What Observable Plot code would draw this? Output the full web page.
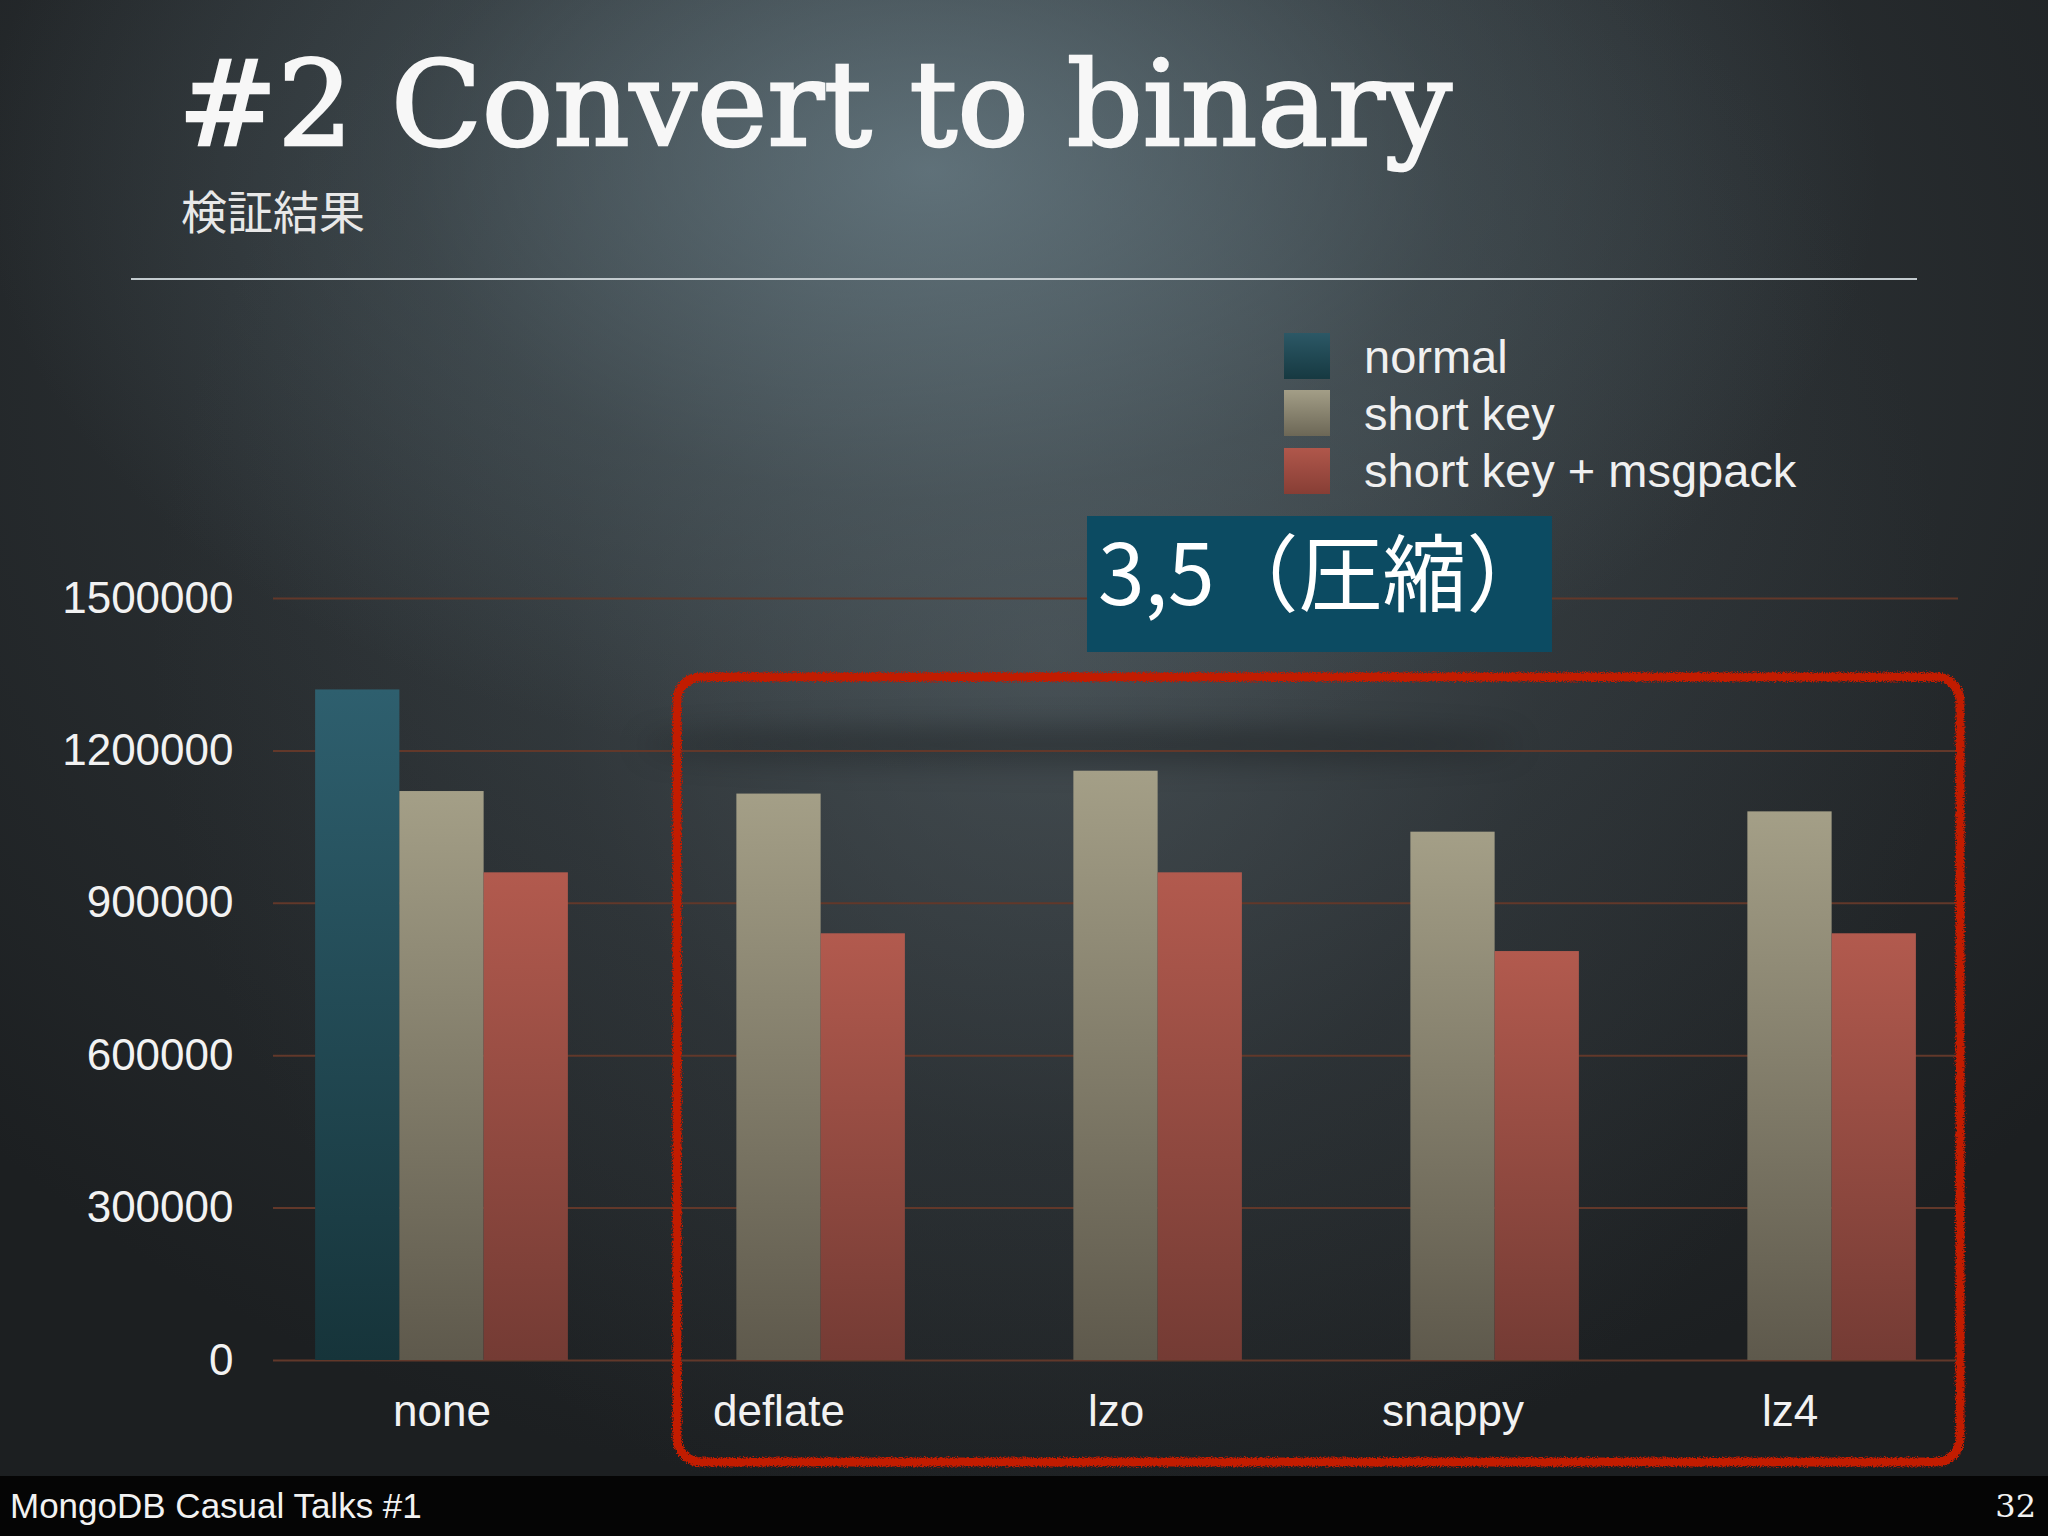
<!DOCTYPE html>
<html>
<head>
<meta charset="utf-8">
<script src="https://cdn.jsdelivr.net/npm/d3@7"></script>
<script src="https://cdn.jsdelivr.net/npm/@observablehq/plot@0.6"></script>
<style>
html, body { margin: 0; padding: 0; }
body { width: 2048px; height: 1536px; overflow: hidden; background: #1e2123; }
#page {
  position: relative; width: 2048px; height: 1536px; overflow: hidden;
  background:
    radial-gradient(ellipse 950px 600px at 930px 170px, rgba(112,134,144,0.7) 0%, rgba(92,110,118,0.3) 55%, rgba(80,95,102,0) 100%),
    radial-gradient(ellipse 900px 900px at 1050px 650px, rgba(85,96,102,0.55) 0%, rgba(70,80,86,0.2) 55%, rgba(60,70,75,0) 100%),
    radial-gradient(ellipse 1400px 1150px at 1000px 350px, #394144 0%, #292e31 55%, #1c1f21 100%);
}
#back, #front { position: absolute; left: 0; top: 0; }
#chart { position: absolute; left: 0; top: 500px; }
</style>
</head>
<body>
<div id="page">
  <svg id="back" width="2048" height="1536">
    <defs>
      <filter id="blur" filterUnits="userSpaceOnUse" x="500" y="600" width="1300" height="300"><feGaussianBlur stdDeviation="16"/></filter>
    </defs>
    <ellipse cx="1080" cy="745" rx="440" ry="14" fill="#000" opacity="0.35" filter="url(#blur)"/>
  </svg>
  <div id="chart"></div>
  <svg id="front" width="2048" height="1536"></svg>
</div>
<script>
// ---- data ----
const groups = ["none", "deflate", "lzo", "snappy", "lz4"];
const seriesNames = ["normal", "short key", "short key + msgpack"];
const normalValues = [1320000, null, null, null, null];
const shortKeyValues = [1120000, 1115000, 1160000, 1040000, 1080000];
const msgpackValues = [960000, 840000, 960000, 805000, 840000];
const yTicks = [0, 300000, 600000, 900000, 1200000, 1500000];
const titleText = "#2 Convert to binary";
const subtitleText = "検証結果";
const calloutText = "3,5（圧縮）";
const footerText = "MongoDB Casual Talks #1";
const pageNumber = "32";

const seriesValues = [normalValues, shortKeyValues, msgpackValues];
const rows = [];
groups.forEach((g, i) => {
  seriesNames.forEach((s, j) => {
    const v = seriesValues[j][i];
    if (v != null) rows.push({group: g, series: s, value: v});
  });
});

const gradIds = ["g-normal", "g-short", "g-msgpack"];
const gradStops = [["#2e5f6e", "#16343a"], ["#a49f87", "#5e594c"], ["#b25a4e", "#743b34"]];

const chart = Plot.plot({
  width: 2048,
  height: 980,
  marginLeft: 272,
  marginRight: 89,
  marginTop: 98,
  marginBottom: 120,
  style: {background: "transparent", color: "#f2f2f2", fontFamily: "'Liberation Sans', Arial, Helvetica, sans-serif", fontSize: "44px"},
  fx: {domain: groups, padding: 0, label: null, tickSize: 0, tickPadding: 34, axis: "bottom"},
  x: {domain: seriesNames, paddingInner: 0, paddingOuter: 0.5, axis: null, round: false},
  y: {domain: [0, 1500000], ticks: yTicks, tickFormat: d3.format("d"), tickSize: 0, tickPadding: 40, label: null},
  color: {domain: seriesNames, range: gradIds.map(id => `url(#${id})`)},
  marks: [
    Plot.ruleY(yTicks, {stroke: "#62382a", strokeWidth: 2}),
    Plot.barY(rows, {fx: "group", x: "series", y: "value", fill: "series"})
  ]
});

const defs = d3.select(chart).insert("defs", ":first-child");
gradIds.forEach((id, i) => {
  const lg = defs.append("linearGradient").attr("id", id).attr("x1", 0).attr("y1", 0).attr("x2", 0).attr("y2", 1);
  lg.append("stop").attr("offset", "0%").attr("stop-color", gradStops[i][0]);
  lg.append("stop").attr("offset", "100%").attr("stop-color", gradStops[i][1]);
});
document.getElementById("chart").appendChild(chart);

// ---- overlay: title, legend, callouts, footer ----
const front = d3.select("#front");
const fdefs = front.append("defs");
fdefs.append("filter").attr("id", "rough").attr("x", "-3%").attr("y", "-3%").attr("width", "106%").attr("height", "106%")
  .call(f => {
    f.append("feTurbulence").attr("type", "fractalNoise").attr("baseFrequency", 0.8).attr("numOctaves", 2).attr("result", "n");
    f.append("feDisplacementMap").attr("in", "SourceGraphic").attr("in2", "n").attr("scale", 6)
      .attr("xChannelSelector", "R").attr("yChannelSelector", "G");
  });
const legendStops = [["#2c5866", "#163941"], ["#a39e87", "#6c6756"], ["#b0574b", "#873e35"]];
legendStops.forEach((st, i) => {
  const lg = fdefs.append("linearGradient").attr("id", "lg" + i).attr("x1", 0).attr("y1", 0).attr("x2", 0).attr("y2", 1);
  lg.append("stop").attr("offset", "0%").attr("stop-color", st[0]);
  lg.append("stop").attr("offset", "100%").attr("stop-color", st[1]);
});

front.append("text").attr("x", 178).attr("y", 145)
  .attr("font-family", "'DejaVu Serif', serif").attr("font-size", 117).attr("fill", "#f7f7f7")
  .attr("stroke", "#f7f7f7").attr("stroke-width", 2.5)
  .attr("textLength", 1274).attr("lengthAdjust", "spacingAndGlyphs")
  .text(titleText);
front.append("text").attr("x", 181).attr("y", 229)
  .attr("font-family", "'Noto Sans CJK JP', sans-serif").attr("font-size", 46).attr("fill", "#e8e8e8")
  .text(subtitleText);
front.append("line").attr("x1", 131).attr("x2", 1917).attr("y1", 279).attr("y2", 279)
  .attr("stroke", "#c3cbcf").attr("stroke-width", 2);

// legend
const legendY = [333, 390, 448];
const legendBase = [373, 430, 487];
seriesNames.forEach((s, i) => {
  front.append("rect").attr("x", 1284).attr("y", legendY[i]).attr("width", 46).attr("height", 46).attr("fill", `url(#lg${i})`);
  front.append("text").attr("x", 1364).attr("y", legendBase[i])
    .attr("font-family", "'Liberation Sans', Arial, sans-serif").attr("font-size", 47).attr("fill", "#f0f0f0")
    .text(s);
});

// callout box
front.append("rect").attr("x", 1087).attr("y", 516).attr("width", 465).attr("height", 136).attr("fill", "#0c4b62");
front.append("text").attr("x", 1098).attr("y", 605)
  .attr("font-family", "'Noto Sans CJK JP', sans-serif").attr("font-size", 84).attr("fill", "#ffffff")
  .text(calloutText);

// hand-drawn red frame
front.append("rect").attr("x", 677).attr("y", 677).attr("width", 1283).attr("height", 785).attr("rx", 24)
  .attr("fill", "none").attr("stroke", "#c21c06").attr("stroke-width", 9).attr("filter", "url(#rough)");

// footer
front.append("rect").attr("x", 0).attr("y", 1476).attr("width", 2048).attr("height", 60).attr("fill", "#050505");
front.append("text").attr("x", 10).attr("y", 1518)
  .attr("font-family", "'Liberation Sans', Arial, sans-serif").attr("font-size", 35).attr("fill", "#f2f2f2")
  .text(footerText);
front.append("text").attr("x", 2036).attr("y", 1517).attr("text-anchor", "end")
  .attr("font-family", "'DejaVu Serif', serif").attr("font-size", 32).attr("fill", "#f2f2f2")
  .text(pageNumber);
</script>
</body>
</html>
